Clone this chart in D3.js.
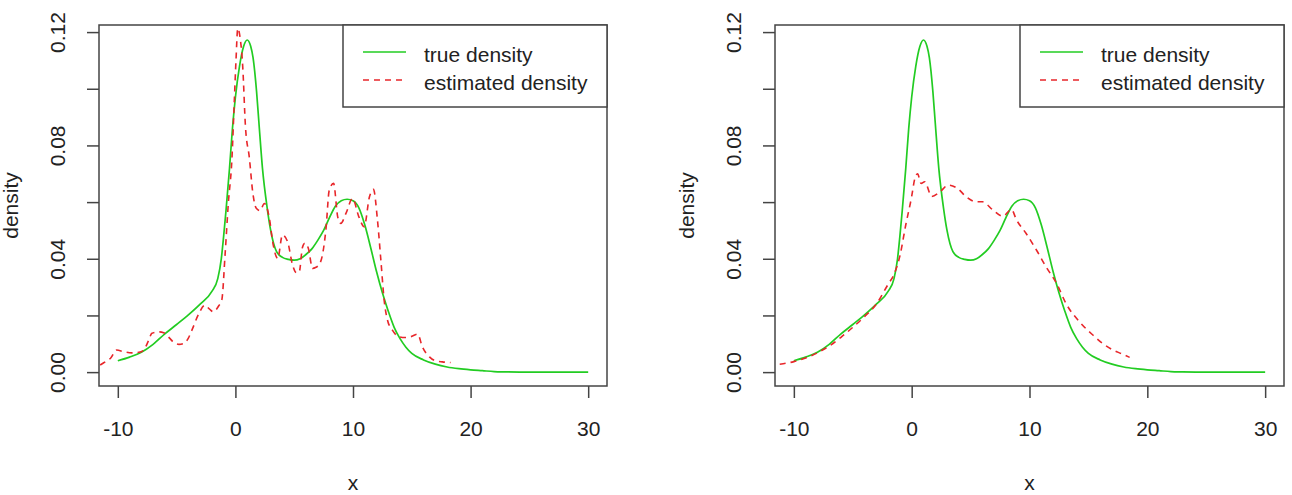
<!DOCTYPE html>
<html>
<head>
<meta charset="utf-8">
<script src="https://d3js.org/d3.v7.min.js"></script>
<style>
  body { margin: 0; background: #fff; }
  text { font-family: "Liberation Sans", Arial, sans-serif; fill: #222; }
</style>
</head>
<body>
<div id="chart"></div>
<script>
// true density (same curve in both panels)
const trueX = [-10,-9,-8,-7,-6,-5,-4,-3,-2,-1.5,-1.2,-1,-0.8,-0.5,-0.25,0,0.35,0.7,1,1.3,1.5,1.8,2,2.3,2.7,3,3.5,4,4.5,5,5.5,6,6.5,7,7.5,8,8.5,9,9.5,10,10.5,11,11.5,12,12.5,13,13.5,14,14.5,15,16,17,18,19,20,21,22,23,25,30];
const trueY = [0.0040,0.0053,0.0070,0.0098,0.0135,0.0168,0.0202,0.0240,0.0285,0.0330,0.0400,0.0480,0.0570,0.0720,0.0860,0.0970,0.1080,0.1150,0.1172,0.1150,0.1110,0.0990,0.0880,0.0720,0.0580,0.0500,0.0425,0.0405,0.0398,0.0395,0.0400,0.0415,0.0435,0.0465,0.0500,0.0545,0.0585,0.0605,0.0610,0.0605,0.0580,0.0520,0.0440,0.0355,0.0280,0.0215,0.0158,0.0118,0.0088,0.0066,0.0043,0.0028,0.0018,0.0012,0.0008,0.0005,0.0002,0.0001,0.0000,0.0000];

// estimated density, left panel
const estLeftX = [-11.5,-11.2,-10.6,-10.1,-9.5,-8.8,-8.2,-7.8,-7.4,-7.1,-6.5,-6.1,-5.6,-5.3,-4.8,-4.4,-4.0,-3.7,-3.1,-2.6,-2.2,-1.9,-1.4,-1.16,-0.87,-0.6,-0.3,-0.1,0.05,0.2,0.4,0.62,0.85,1.19,1.47,1.76,2.1,2.46,2.9,3.17,3.6,4.0,4.44,4.86,5.2,5.43,5.7,5.9,6.2,6.56,6.85,7.1,7.4,7.7,7.98,8.35,8.7,8.97,9.4,9.96,10.5,10.95,11.4,11.74,12.08,12.37,12.65,12.93,13.35,13.9,14.4,14.9,15.5,15.9,16.5,17.0,17.6,18.3];
const estLeftY = [0.0025,0.0033,0.0050,0.0078,0.0072,0.0068,0.0070,0.0078,0.0110,0.0137,0.0142,0.0139,0.0120,0.0107,0.0098,0.0101,0.0120,0.0148,0.0207,0.0236,0.0222,0.0213,0.0235,0.0254,0.0420,0.0597,0.0750,0.0950,0.1100,0.1213,0.1180,0.1080,0.0870,0.0755,0.0636,0.0579,0.0570,0.0595,0.0540,0.0460,0.0401,0.0484,0.0460,0.0378,0.0350,0.0354,0.0440,0.0455,0.0437,0.0366,0.0370,0.0378,0.0413,0.0505,0.0642,0.0666,0.0548,0.0525,0.0560,0.0613,0.0548,0.0513,0.0619,0.0645,0.0537,0.0395,0.0254,0.0184,0.0148,0.0125,0.0122,0.0125,0.0134,0.0089,0.0054,0.0040,0.0036,0.0034];

// estimated density, right panel
const estRightX = [-11.2,-10,-9,-8,-7,-6,-5,-4,-3,-2,-1.5,-1,-0.5,0,0.25,0.5,0.8,1.1,1.7,2.4,3.1,3.9,4.6,5.5,6.0,6.9,7.75,8.46,8.9,9.7,10.6,11.4,12.3,13.1,14.3,15.4,16.2,17.0,17.8,18.5];
const estRightY = [0.0028,0.0037,0.0050,0.0068,0.0092,0.0123,0.0158,0.0196,0.0240,0.0310,0.0345,0.0410,0.0520,0.0620,0.0680,0.0700,0.0666,0.0672,0.0620,0.0636,0.0660,0.0648,0.0620,0.0601,0.0601,0.0572,0.0550,0.0574,0.0537,0.0490,0.0430,0.0372,0.0313,0.0242,0.0175,0.0130,0.0101,0.0080,0.0065,0.0052];

const xTicks = [-10, 0, 10, 20, 30];
const yTicks = [0, 0.02, 0.04, 0.06, 0.08, 0.10, 0.12];
const yLabelled = [0, 0.04, 0.08, 0.12];
const legendLabels = ["true density", "estimated density"];

const width = 1292, height = 495;
const greenCol = "#22cc22", redCol = "#e8262a";

const svg = d3.select("#chart").append("svg")
  .attr("width", width)
  .attr("height", height);

const panels = [
  { left: 99, right: 607, estX: estLeftX, estY: estLeftY, legendLeft: 343 },
  { left: 775, right: 1284, estX: estRightX, estY: estRightY, legendLeft: 1020 }
];
const boxTop = 25, boxBottom = 386;

panels.forEach((p, i) => {
  const x = d3.scaleLinear().domain([-11.6, 31.6]).range([p.left, p.right]);
  const y = d3.scaleLinear().domain([-0.0049, 0.1225]).range([boxBottom, boxTop]);
  const g = svg.append("g");

  // clip to plot box
  g.append("clipPath").attr("id", "clip" + i)
    .append("rect")
    .attr("x", p.left).attr("y", boxTop)
    .attr("width", p.right - p.left).attr("height", boxBottom - boxTop);

  const line = d3.line()
    .x(d => x(d[0]))
    .y(d => y(d[1]))
    .curve(d3.curveMonotoneX);

  const lines = g.append("g").attr("clip-path", `url(#clip${i})`);

  lines.append("path")
    .datum(trueX.map((v, j) => [v, trueY[j]]))
    .attr("d", line)
    .attr("fill", "none")
    .attr("stroke", greenCol)
    .attr("stroke-width", 1.7);

  lines.append("path")
    .datum(p.estX.map((v, j) => [v, p.estY[j]]))
    .attr("d", line)
    .attr("fill", "none")
    .attr("stroke", redCol)
    .attr("stroke-width", 1.6)
    .attr("stroke-dasharray", "6,5");

  // box
  g.append("rect")
    .attr("x", p.left).attr("y", boxTop)
    .attr("width", p.right - p.left).attr("height", boxBottom - boxTop)
    .attr("fill", "none")
    .attr("stroke", "#444")
    .attr("stroke-width", 1.5);

  // x axis
  const xAxis = g.append("g")
    .attr("transform", `translate(0, ${boxBottom})`)
    .call(d3.axisBottom(x).tickValues(xTicks).tickSize(12).tickSizeOuter(0)
      .tickFormat(d => String(d)));
  xAxis.select(".domain").remove();
  xAxis.selectAll("line").attr("stroke", "#444").attr("stroke-width", 1.5);
  xAxis.selectAll("text")
    .attr("y", 50).attr("dy", 0)
    .style("font-size", "21px")
    .style("font-family", "Liberation Sans, Arial, sans-serif")
    .attr("fill", "#222");

  // y axis
  const yAxis = g.append("g")
    .attr("transform", `translate(${p.left}, 0)`)
    .call(d3.axisLeft(y).tickValues(yTicks).tickSize(12).tickSizeOuter(0)
      .tickFormat(d => yLabelled.some(v => Math.abs(v - d) < 1e-9) ? d.toFixed(2) : ""));
  yAxis.select(".domain").remove();
  yAxis.selectAll("line").attr("stroke", "#444").attr("stroke-width", 1.5);
  yAxis.selectAll("text")
    .attr("transform", "rotate(-90)")
    .attr("x", 0).attr("y", -34).attr("dy", 0)
    .style("text-anchor", "middle")
    .style("font-size", "21px")
    .style("font-family", "Liberation Sans, Arial, sans-serif")
    .attr("fill", "#222");

  // axis titles
  g.append("text")
    .attr("x", (p.left + p.right) / 2)
    .attr("y", 490)
    .attr("text-anchor", "middle")
    .style("font-size", "21px")
    .text("x");

  g.append("text")
    .attr("transform", `translate(${p.left - 81}, ${(boxTop + boxBottom) / 2}) rotate(-90)`)
    .attr("text-anchor", "middle")
    .style("font-size", "21px")
    .text("density");

  // legend
  const lg = g.append("g");
  lg.append("rect")
    .attr("x", p.legendLeft).attr("y", boxTop)
    .attr("width", p.right - p.legendLeft).attr("height", 82)
    .attr("fill", "#fff")
    .attr("stroke", "#444")
    .attr("stroke-width", 1.5);

  legendLabels.forEach((lab, k) => {
    const ly = 52 + k * 28;
    lg.append("line")
      .attr("x1", p.legendLeft + 20).attr("x2", p.legendLeft + 63)
      .attr("y1", ly).attr("y2", ly)
      .attr("stroke", k === 0 ? greenCol : redCol)
      .attr("stroke-width", 1.6)
      .attr("stroke-dasharray", k === 0 ? null : "6,5");
    lg.append("text")
      .attr("x", p.legendLeft + 81)
      .attr("y", ly + 10)
      .style("font-size", "21px")
      .text(lab);
  });
});
</script>
</body>
</html>
